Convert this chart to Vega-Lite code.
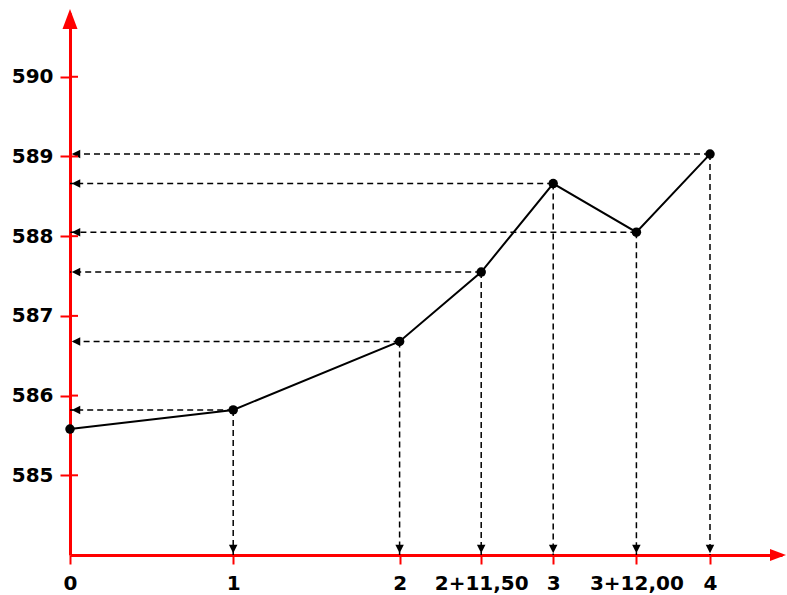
{
  "$schema": "https://vega.github.io/schema/vega-lite/v6.json",
  "width": 712,
  "height": 542,
  "autosize": {"type": "none"},
  "padding": {"left": 70, "top": 13, "right": 5, "bottom": 40},
  "background": "white",
  "config": {
    "view": {"stroke": null},
    "axis": {
      "grid": false,
      "domainColor": "#ff0000", "domainWidth": 3,
      "tickColor": "#ff0000", "tickWidth": 2,
      "labelFont": "DejaVu Sans", "labelFontWeight": "bold", "labelFontSize": 20, "labelColor": "black",
      "labelOverlap": false, "labelFlush": false, "labelBound": false
    },
    "axisX": {"tickSize": 9, "labelPadding": 9},
    "axisY": {"tickSize": 10, "labelPadding": 7}
  },
  "data": {
    "values": [
      {"station": "0", "x": 0, "elev": 585.58},
      {"station": "1", "x": 1.02, "elev": 585.82},
      {"station": "2", "x": 2.06, "elev": 586.68},
      {"station": "2+11,50", "x": 2.57, "elev": 587.55},
      {"station": "3", "x": 3.02, "elev": 588.66},
      {"station": "3+12,00", "x": 3.54, "elev": 588.05},
      {"station": "4", "x": 4.0, "elev": 589.03}
    ]
  },
  "layer": [
    {
      "mark": {"type": "line", "color": "black", "strokeWidth": 2},
      "encoding": {
        "x": {
          "field": "x", "type": "quantitative",
          "scale": {"domain": [0, 4.45], "nice": false, "zero": false},
          "axis": {
            "values": [0, 1.02, 2.06, 2.57, 3.02, 3.54, 4.0],
            "labelExpr": "datum.value == 1.02 ? '1' : datum.value == 2.06 ? '2' : datum.value == 2.57 ? '2+11,50' : datum.value == 3.02 ? '3' : datum.value == 3.54 ? '3+12,00' : datum.value == 4 ? '4' : '0'",
            "title": null
          }
        },
        "y": {
          "field": "elev", "type": "quantitative",
          "scale": {"domain": [584, 590.8], "nice": false, "zero": false},
          "axis": {"values": [585, 586, 587, 588, 589, 590], "format": "d", "title": null}
        }
      }
    },
    {
      "transform": [{"filter": "datum.x > 0"}],
      "mark": {"type": "rule", "color": "black", "strokeWidth": 1.5, "strokeDash": [6, 4]},
      "encoding": {
        "x": {"field": "x", "type": "quantitative", "axis": {"title": null}},
        "x2": {"datum": 0},
        "y": {"field": "elev", "type": "quantitative", "axis": {"title": null}}
      }
    },
    {
      "transform": [{"filter": "datum.x > 0"}],
      "mark": {"type": "rule", "color": "black", "strokeWidth": 1.5, "strokeDash": [6, 4]},
      "encoding": {
        "x": {"field": "x", "type": "quantitative", "axis": {"title": null}},
        "y": {"field": "elev", "type": "quantitative", "axis": {"title": null}},
        "y2": {"datum": 584}
      }
    },
    {
      "transform": [{"filter": "datum.x > 0"}],
      "mark": {"type": "point", "shape": "M-1,0L1,-1L1,1Z", "size": 72, "filled": true, "color": "black", "opacity": 1, "xOffset": 6},
      "encoding": {
        "x": {"datum": 0, "type": "quantitative", "axis": {"title": null}},
        "y": {"field": "elev", "type": "quantitative", "axis": {"title": null}}
      }
    },
    {
      "transform": [{"filter": "datum.x > 0"}],
      "mark": {"type": "point", "shape": "M0,1L-1,-1L1,-1Z", "size": 72, "filled": true, "color": "black", "opacity": 1, "yOffset": -6},
      "encoding": {
        "x": {"field": "x", "type": "quantitative", "axis": {"title": null}},
        "y": {"datum": 584, "type": "quantitative", "axis": {"title": null}}
      }
    },
    {
      "mark": {"type": "circle", "color": "black", "size": 90, "opacity": 1},
      "encoding": {
        "x": {"field": "x", "type": "quantitative", "axis": {"title": null}},
        "y": {"field": "elev", "type": "quantitative", "axis": {"title": null}}
      }
    },
    {
      "data": {"values": [{"tick": 585}, {"tick": 586}, {"tick": 587}, {"tick": 588}, {"tick": 589}, {"tick": 590}]},
      "mark": {"type": "point", "shape": "M0,0L1,0", "size": 256, "filled": false, "stroke": "#ff0000", "strokeWidth": 2, "opacity": 1},
      "encoding": {
        "x": {"datum": 0, "type": "quantitative", "axis": {"title": null}},
        "y": {"field": "tick", "type": "quantitative", "axis": {"title": null}}
      }
    },
    {
      "data": {"values": [{"end": "top"}]},
      "mark": {"type": "point", "shape": "M0,-1L-0.75,1L0.75,1Z", "size": 400, "filled": true, "color": "#ff0000", "opacity": 1, "yOffset": 6},
      "encoding": {
        "x": {"datum": 0, "type": "quantitative", "axis": {"title": null}},
        "y": {"datum": 590.8, "type": "quantitative", "axis": {"title": null}}
      }
    },
    {
      "data": {"values": [{"end": "right"}]},
      "mark": {"type": "point", "shape": "M1,0L-1,-0.75L-1,0.75Z", "size": 256, "filled": true, "color": "#ff0000", "opacity": 1, "xOffset": -4},
      "encoding": {
        "x": {"datum": 4.45, "type": "quantitative", "axis": {"title": null}},
        "y": {"datum": 584, "type": "quantitative", "axis": {"title": null}}
      }
    }
  ]
}
